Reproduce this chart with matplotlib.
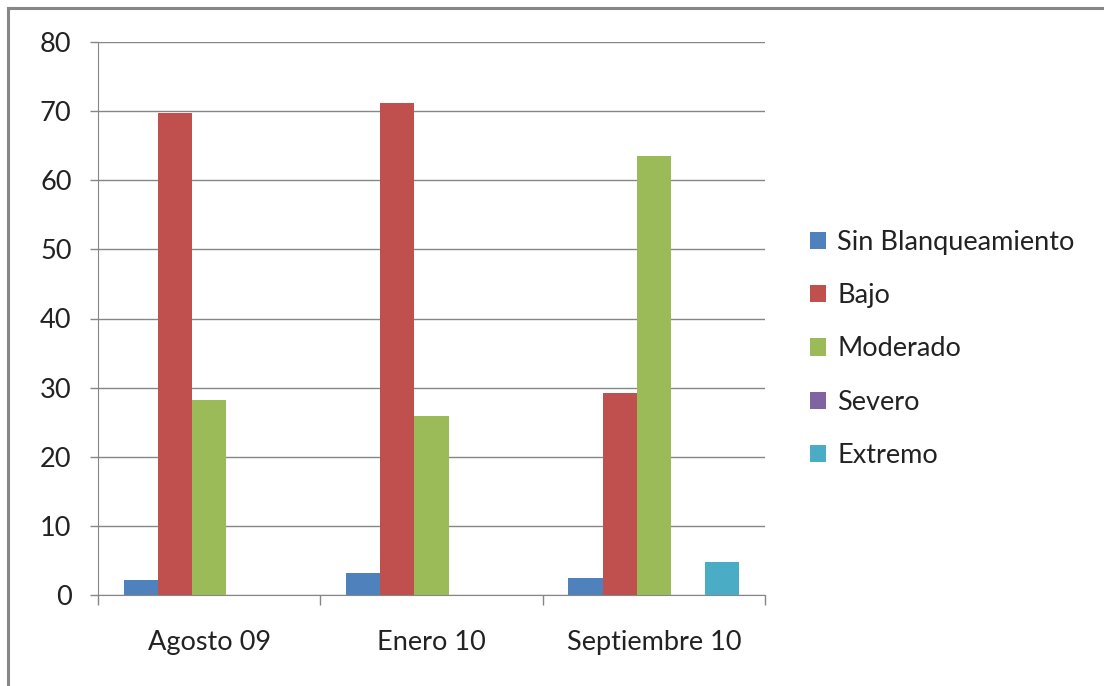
import numpy as np
import matplotlib
matplotlib.use('Agg')
import matplotlib.pyplot as plt
from matplotlib.lines import Line2D
from matplotlib.patches import Patch

# datos
periodos = ['Agosto 09', 'Enero 10', 'Septiembre 10']
categorias = ['Sin Blanqueamiento', 'Bajo', 'Moderado', 'Severo', 'Extremo']
sin_blanq = [2.2, 3.2, 2.5]
bajo = [69.7, 71.2, 29.2]
moderado = [28.2, 25.9, 63.5]
severo = [0, 0, 0]
extremo = [0, 0, 4.8]
colores = ['#4F81BD', '#C0504D', '#9BBB59', '#8064A2', '#4BACC6']

plt.rcParams['font.family'] = ['Lato', 'DejaVu Sans']
tam = 19.5

fig = plt.figure(figsize=(11.04, 6.86), dpi=100)
ax = fig.add_axes([98/1104, 1-595/686, (765-98)/1104, (595-42)/686])

series = [sin_blanq, bajo, moderado, severo, extremo]
x = np.arange(len(periodos))
ancho = 1/6.5
for i, (vals, col) in enumerate(zip(series, colores)):
    pos = x + (i - 2) * ancho
    ax.bar(pos, vals, width=ancho, color=col, zorder=3, label=categorias[i])

ax.set_xlim(-0.5, 2.5)
ax.set_ylim(0, 80)
ax.set_yticks(range(0, 81, 10))
ax.yaxis.grid(True, color='#868686', linewidth=1, zorder=0)

ax.set_xticks([-0.5, 0.5, 1.5, 2.5])
ax.set_xticklabels([])
ax.set_xticks(x, minor=True)
ax.set_xticklabels(periodos, minor=True)
ax.tick_params(axis='x', which='major', length=7, color='#868686', width=1)
ax.tick_params(axis='x', which='minor', length=0, pad=25, labelsize=tam, labelcolor='#222222')
ax.tick_params(axis='y', length=6, color='#868686', width=1, pad=13, labelsize=tam, labelcolor='#222222')

for s in ['top', 'right']:
    ax.spines[s].set_visible(False)
for s in ['left', 'bottom']:
    ax.spines[s].set_color('#868686')

handles = [Patch(facecolor=c) for c in colores]
ley = fig.legend(handles, categorias, loc='center left', bbox_to_anchor=(810/1104, 1-349/686),
                 frameon=False, fontsize=tam, labelspacing=1.04, handlelength=0.6,
                 handleheight=0.6, handletextpad=0.4, borderpad=0, borderaxespad=0)
for t in ley.get_texts():
    t.set_color('#222222')

# marco gris a la izquierda y arriba
fig.add_artist(Line2D([7.5/1104, 7.5/1104], [0, 1-8/686], transform=fig.transFigure,
                      color='#878787', linewidth=2.2))
fig.add_artist(Line2D([7.5/1104, 1], [1-8/686, 1-8/686], transform=fig.transFigure,
                      color='#878787', linewidth=2.2))

fig.savefig('out.png', dpi=100)
